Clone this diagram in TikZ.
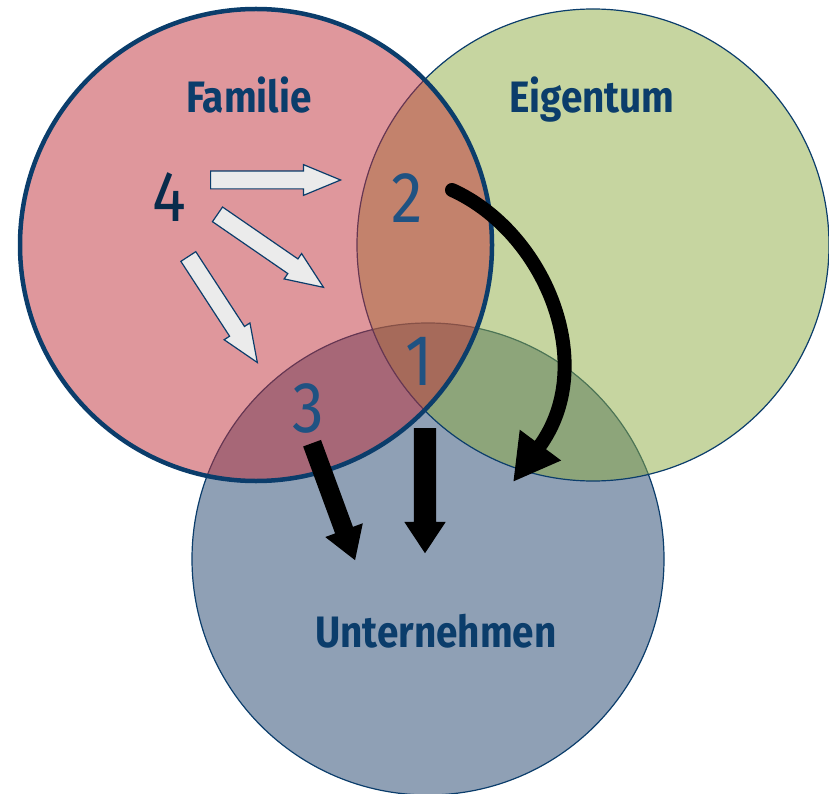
\documentclass[tikz,border=0pt]{standalone}
\usepackage{fontspec}
\setmainfont{Fira Sans}
\newfontfamily\condfont[FakeStretch=0.88]{Fira Sans}
\usetikzlibrary{calc,shapes.arrows,arrows.meta}

\definecolor{navy}{HTML}{0B3D6B}
\definecolor{digitblue}{HTML}{1F5282}
\definecolor{famred}{HTML}{C0303A}
\definecolor{eiggreen}{HTML}{8DAB41}
\definecolor{untblue}{HTML}{1F416B}
\definecolor{pale}{HTML}{EBEBEB}

\tikzset{
  set/.style={fill opacity=0.5, draw=navy, line width=1.2pt},
  setlabel/.style={anchor=base, text=navy, font=\condfont\bfseries\fontsize{44}{44}\selectfont},
  region/.style={anchor=base, text=digitblue, font=\condfont\fontsize{72}{72}\selectfont},
  hollow/.style={single arrow, draw=navy, fill=pale, line width=1.2pt,
    inner xsep=0pt, inner ysep=8.3pt, single arrow head extend=6.5pt,
    single arrow tip angle=45},
  solid/.style={single arrow, fill=black, inner xsep=0pt},
}

% arrow shape between two named points
\newcommand{\blockarrow}[3]{%
  \path let \p1=($(#3)-(#2)$), \n1={veclen(\x1,\y1)}, \n2={atan2(\y1,\x1)} in
    node[#1, minimum height=\n1, rotate=\n2, anchor=tail] at (#2) {};}

\begin{document}
\begin{tikzpicture}[x=1pt, y=-1pt]
\useasboundingbox (0,0) rectangle (829,794);

% Sets
\coordinate (unt) at (428,559);
\coordinate (eig) at (593,245);
\coordinate (fam) at (256,245);
\draw[set, fill=untblue] (unt) circle[radius=236pt];
\draw[set, fill=eiggreen] (eig) circle[radius=236pt];
\draw[set, fill=famred, line width=4.5pt] (fam) circle[radius=236pt];

% Labels
\node[setlabel] (famlabel) at (249,113) {Familie};
\node[setlabel] (eiglabel) at (592,113) {Eigentum};
\node[setlabel] (untlabel) at (436,647) {Unternehmen};

\node[region, text=navy!70!black] (r4) at (169,222) {4};
\node[region] (r2) at (407,223) {2};
\node[region] (r1) at (419,385) {1};
\node[region] (r3) at (308,432) {3};

% White arrows
\coordinate (a1s) at (210,180);
\coordinate (a1e) at (340,180);
\coordinate (a2s) at (217,214);
\coordinate (a2e) at (323,287);
\coordinate (a3s) at (188,256);
\coordinate (a3e) at (257,362);
\blockarrow{hollow}{a1s}{a1e}
\blockarrow{hollow}{a2s}{a2e}
\blockarrow{hollow}{a3s}{a3e}

% Black arrows
\coordinate (b1s) at (425,428);
\coordinate (b1e) at (425,553);
\coordinate (b3s) at (312,443);
\coordinate (b3e) at (355,560);
\blockarrow{solid, inner ysep=11pt, single arrow head extend=9.5pt, single arrow tip angle=67}{b1s}{b1e}
\blockarrow{solid, inner ysep=9.3pt, single arrow head extend=10.5pt, single arrow tip angle=64}{b3s}{b3e}

\coordinate (b2s) at (452,190);
\coordinate (b2e) at (513,482);
\draw[line width=14pt, line cap=round, -{Triangle[width=48pt, length=46pt]}]
  (b2s) .. controls (545,232) and (600,365) .. (b2e);
\end{tikzpicture}
\end{document}
